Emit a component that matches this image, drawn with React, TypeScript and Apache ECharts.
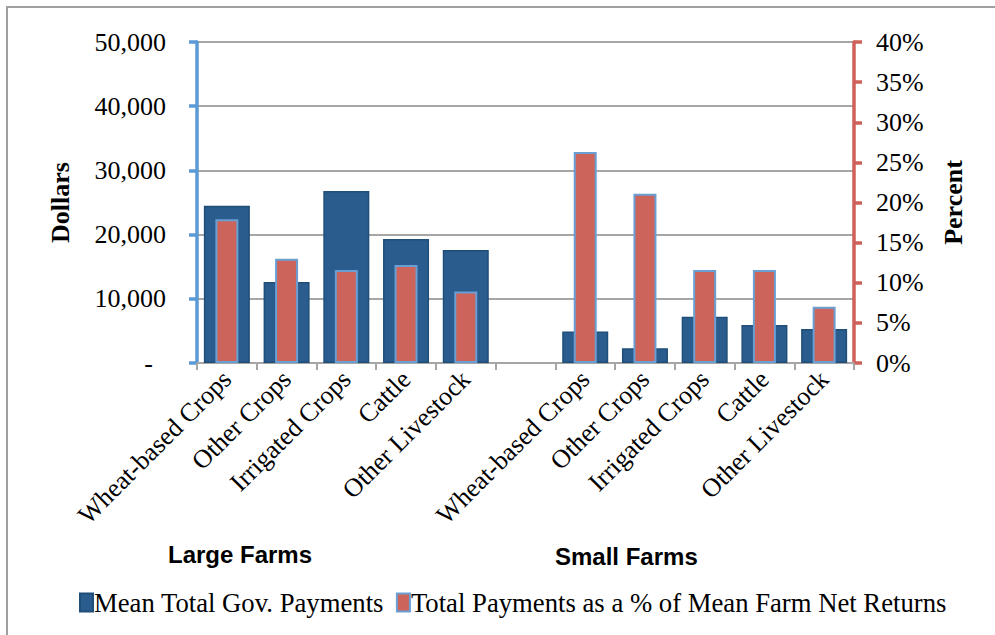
import React, { useEffect, useRef } from "react";
import * as echarts from "echarts";

const categories = [
  "Wheat-based Crops", "Other Crops", "Irrigated Crops", "Cattle", "Other Livestock",
  "",
  "Wheat-based Crops", "Other Crops", "Irrigated Crops", "Cattle", "Other Livestock",
];
const meanPayments = [24500, 12600, 26800, 19300, 17600, null, 4900, 2300, 7200, 5900, 5300];
const pctOfReturns = [17.9, 13.0, 11.6, 12.2, 8.9, null, 26.3, 21.1, 11.6, 11.6, 7.0];
const dollarTicks = { min: 0, max: 50000, interval: 10000 };
const percentTicks = { min: 0, max: 40, interval: 5 };
const groupLabels = ["Large Farms", "Small Farms"];
const seriesNames = ["Mean Total Gov. Payments", "Total Payments as a % of Mean Farm Net Returns"];

const SERIF = "'Liberation Serif', 'Times New Roman', serif";

export default function App() {
  const ref = useRef<HTMLDivElement>(null);
  useEffect(() => {
    if (!ref.current) return;
    const chart = echarts.init(ref.current, null, { renderer: "svg" });
    const catLabel = {
      interval: 0,
      rotate: 45,
      fontSize: 26,
      fontFamily: SERIF,
      color: "#000",
      margin: 12,
    };
    chart.setOption({
      animation: false,
      backgroundColor: "#fff",
      grid: { left: 197, right: 141, top: 42, bottom: 272, containLabel: false },
      legend: {
        left: 74,
        top: 584,
        itemWidth: 13,
        itemHeight: 18,
        itemGap: 12,
        icon: "rect",
        textStyle: { fontSize: 26.7, fontFamily: SERIF, color: "#000", padding: [0, 0, 0, -4] },
        data: seriesNames,
      },
      xAxis: [
        {
          type: "category",
          data: categories,
          boundaryGap: true,
          axisLine: { show: true, lineStyle: { color: "#a6a6a6", width: 2 } },
          axisTick: { show: true, length: 7, interval: 0, lineStyle: { color: "#a6a6a6", width: 2 } },
          axisLabel: catLabel,
          splitLine: { show: false },
        },
        {
          type: "category",
          data: categories,
          boundaryGap: true,
          show: false,
          position: "bottom",
        },
      ],
      yAxis: [
        {
          type: "value",
          min: dollarTicks.min,
          max: dollarTicks.max,
          interval: dollarTicks.interval,
          name: "Dollars",
          nameLocation: "middle",
          nameGap: 124,
          nameRotate: 90,
          nameTextStyle: { fontSize: 26, fontWeight: "bold", fontFamily: SERIF, color: "#000" },
          axisLine: { show: true, lineStyle: { color: "#5b9bd5", width: 3.5 } },
          axisTick: { show: true, inside: false, length: 8, lineStyle: { color: "#5b9bd5", width: 3.5 } },
          axisLabel: {
            fontSize: 26,
            fontFamily: SERIF,
            color: "#000",
            margin: 31,
            formatter: (v: number) => (v === 0 ? "-\u00a0\u00a0" : v.toLocaleString("en-US")),
          },
          splitLine: { show: true, lineStyle: { color: "#a6a6a6", width: 2 } },
        },
        {
          type: "value",
          min: percentTicks.min,
          max: percentTicks.max,
          interval: percentTicks.interval,
          position: "right",
          name: "Percent",
          nameLocation: "middle",
          nameGap: 86,
          nameRotate: 90,
          nameTextStyle: { fontSize: 26, fontWeight: "bold", fontFamily: SERIF, color: "#000" },
          axisLine: { show: true, lineStyle: { color: "#d0605a", width: 3.5 } },
          axisTick: { show: true, inside: false, length: 8, lineStyle: { color: "#d0605a", width: 3.5 } },
          axisLabel: {
            fontSize: 26,
            fontFamily: SERIF,
            color: "#000",
            margin: 22,
            formatter: (v: number) => v + "%",
          },
          splitLine: { show: false },
        },
      ],
      series: [
        {
          name: seriesNames[0],
          type: "bar",
          xAxisIndex: 0,
          yAxisIndex: 0,
          barWidth: 46,
          data: meanPayments,
          itemStyle: { color: "#2a5d8e", borderColor: "#1f4e79", borderWidth: 1.5 },
        },
        {
          name: seriesNames[1],
          type: "bar",
          xAxisIndex: 1,
          yAxisIndex: 1,
          barWidth: 23,
          data: pctOfReturns,
          itemStyle: { color: "#cc645c", borderColor: "#6a9fd3", borderWidth: 2 },
        },
      ],
      graphic: [
        {
          type: "rect",
          silent: true,
          shape: { x: 7, y: 7, width: 1000, height: 700 },
          style: { fill: "none", stroke: "#a0a0a0", lineWidth: 2 },
          z: -10,
        },
        {
          type: "text",
          left: 168,
          top: 542,
          style: {
            text: groupLabels[0],
            font: "bold 24px 'Liberation Sans', Arial, sans-serif",
            fill: "#000",
          },
        },
        {
          type: "text",
          left: 555,
          top: 544,
          style: {
            text: groupLabels[1],
            font: "bold 24px 'Liberation Sans', Arial, sans-serif",
            fill: "#000",
          },
        },
      ],
    });
    return () => chart.dispose();
  }, []);
  return (
    <div
      ref={ref}
      style={{ position: "fixed", left: 0, top: 0, width: 995, height: 635 }}
    />
  );
}
